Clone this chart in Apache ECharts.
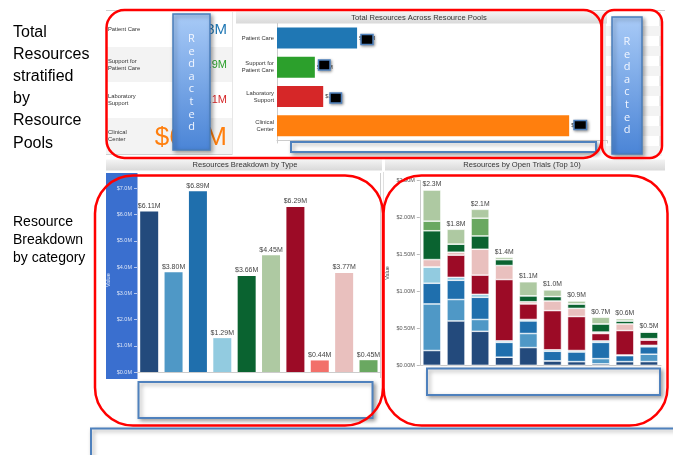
<!DOCTYPE html>
<html>
<head>
<meta charset="utf-8">
<script src="https://cdn.jsdelivr.net/npm/echarts@6/dist/echarts.min.js"></script>
<style>
html, body { margin: 0; padding: 0; background: #fff; }
#chart { width: 673px; height: 455px; }
</style>
</head>
<body>
<div id="chart"></div>
<script>
// top: total resources across resource pools ($M)
const poolNames = ['Patient Care', 'Support for\nPatient Care', 'Laboratory\nSupport', 'Clinical\nCenter']
const poolValues = [1.82, 0.86, 1.05, 6.64]

// bottom left: resources breakdown by type ($M)
const typeNames = ['Type 1', 'Type 2', 'Type 3', 'Type 4', 'Type 5', 'Type 6', 'Type 7', 'Type 8', 'Type 9', 'Type 10']
const typeValues = [6.11, 3.80, 6.89, 1.29, 3.66, 4.45, 6.29, 0.44, 3.77, 0.45]

// bottom right: resources by open trials, top 10 ($M), stacked bottom -> top
const trialNames = ['Trial 1', 'Trial 2', 'Trial 3', 'Trial 4', 'Trial 5', 'Trial 6', 'Trial 7', 'Trial 8', 'Trial 9', 'Trial 10']
const trialTotalLabels = ['$2.3M', '$1.8M', '$2.1M', '$1.4M', '$1.1M', '$1.0M', '$0.9M', '$0.7M', '$0.6M', '$0.5M']
const trialType1  = [0.20, 0.60, 0.46, 0.11, 0.24, 0.06, 0.05, 0.02, 0.05, 0.05]
const trialType2  = [0.63, 0.29, 0.16, 0.00, 0.19, 0.00, 0.00, 0.07, 0.00, 0.10]
const trialType3  = [0.28, 0.26, 0.30, 0.20, 0.17, 0.13, 0.13, 0.22, 0.08, 0.10]
const trialType4  = [0.22, 0.04, 0.04, 0.02, 0.02, 0.02, 0.02, 0.02, 0.01, 0.02]
const trialType7  = [0.00, 0.30, 0.26, 0.83, 0.21, 0.53, 0.46, 0.10, 0.33, 0.07]
const trialType9  = [0.10, 0.04, 0.35, 0.19, 0.03, 0.13, 0.11, 0.02, 0.09, 0.02]
const trialType5  = [0.39, 0.11, 0.18, 0.08, 0.08, 0.06, 0.06, 0.11, 0.04, 0.09]
const trialType10 = [0.13, 0.00, 0.24, 0.00, 0.00, 0.00, 0.00, 0.00, 0.00, 0.00]
const trialType6  = [0.42, 0.20, 0.12, 0.03, 0.19, 0.09, 0.04, 0.09, 0.03, 0.01]

// styles
const poolColors = ['#1f77b4', '#2ca02c', '#d62728', '#ff7f0e']
const poolFontSizes = [15, 11, 11, 26]
const typeColors = ['#234a7c', '#4f98c6', '#1f6fad', '#92cbe0', '#0a6330', '#aec9a2', '#9c0b26', '#f2706a', '#e9c0be', '#6aa861']
const FONT = '"Liberation Sans", Arial, sans-serif'

const chart = echarts.init(document.getElementById('chart'))

function money(v, d) { return '$' + v.toFixed(d) + 'M' }

const stackSeries = [
    ['Type 1', trialType1, 0], ['Type 2', trialType2, 1], ['Type 3', trialType3, 2], ['Type 4', trialType4, 3],
    ['Type 7', trialType7, 6], ['Type 9', trialType9, 8], ['Type 5', trialType5, 4], ['Type 10', trialType10, 9],
    ['Type 6', trialType6, 5]
].map(([name, data, ci]) => ({
    name: name,
    type: 'bar',
    xAxisIndex: 2,
    yAxisIndex: 2,
    stack: 'trials',
    barWidth: 18,
    itemStyle: { color: typeColors[ci], borderColor: '#fff', borderWidth: 0.6 },
    data: data
}))

// graphic helpers (annotations / frames)
function redFrame(x, y, w, h, r) {
    return { type: 'rect', z: 120, shape: { x: x, y: y, width: w, height: h, r: r }, style: { fill: 'none', stroke: '#ff0000', lineWidth: 2.5 } }
}
function blankBox(x, y, w, h) {
    return {
        type: 'rect', z: 110, shape: { x: x, y: y, width: w, height: h },
        style: { fill: '#fff', stroke: '#4f81bd', lineWidth: 2, shadowBlur: 4, shadowOffsetX: 2, shadowOffsetY: 2, shadowColor: 'rgba(0,0,0,0.35)' }
    }
}
function blackBox(x, y, w, h) {
    return {
        type: 'rect', z: 110, shape: { x: x, y: y, width: w, height: h },
        style: { fill: '#000', stroke: '#4f81bd', lineWidth: 1.5, shadowBlur: 3, shadowOffsetX: 1, shadowOffsetY: 1, shadowColor: 'rgba(0,0,0,0.4)' }
    }
}
function redacted(x, y, w, h, cy) {
    return [{
        type: 'rect', z: 112, shape: { x: x, y: y, width: w, height: h },
        style: {
            fill: new echarts.graphic.LinearGradient(0, 0, 0, 1, [{ offset: 0, color: '#a9cbf7' }, { offset: 1, color: '#4a84d6' }]),
            stroke: '#4a7ebb', lineWidth: 1.5, shadowBlur: 4, shadowOffsetX: 2, shadowOffsetY: 2, shadowColor: 'rgba(0,0,0,0.35)'
        }
    }, {
        type: 'text', z: 113, style: {
            text: 'R\ne\nd\na\nc\nt\ne\nd', x: x + w / 2, y: cy, align: 'center', verticalAlign: 'middle',
            fill: '#f2f6ff', fontSize: 11, fontFamily: '"Open Sans", sans-serif', lineHeight: 12.6
        }
    }]
}
function band(x, y, w, h, text, tx) {
    return [{
        type: 'rect', z: 0, shape: { x: x, y: y, width: w, height: h },
        style: { fill: new echarts.graphic.LinearGradient(0, 0, 0, 1, [{ offset: 0, color: '#f4f4f4' }, { offset: 1, color: '#d9d9d9' }]) }
    }, {
        type: 'text', z: 1, style: { text: text, x: tx, y: y + h / 2, align: 'center', verticalAlign: 'middle', fill: '#333', fontSize: 7.6, fontFamily: FONT }
    }]
}
function hline(x1, x2, y, c) { return { type: 'line', z: 0, shape: { x1: x1, y1: y, x2: x2, y2: y }, style: { stroke: c || '#d0d0d0', lineWidth: 1 } } }
function vline(x, y1, y2, c) { return { type: 'line', z: 0, shape: { x1: x, y1: y1, x2: x, y2: y2 }, style: { stroke: c || '#d0d0d0', lineWidth: 1 } } }

const rowTops = [12, 47, 82, 118, 154]
const tableGraphics = []
poolNames.forEach((n, i) => {
    tableGraphics.push({ type: 'rect', z: 0, shape: { x: 106, y: rowTops[i], width: 126, height: rowTops[i + 1] - rowTops[i] }, style: { fill: i % 2 ? '#f3f3f3' : '#fff' } })
    const cy = (rowTops[i] + rowTops[i + 1]) / 2
    tableGraphics.push({ type: 'text', z: 1, style: { text: n, x: 108, y: cy, align: 'left', verticalAlign: 'middle', fill: '#333', fontSize: 5.8, lineHeight: 7, fontFamily: FONT } })
    tableGraphics.push({ type: 'text', z: 1, style: { text: money(poolValues[i], 1), x: 227, y: cy + (i === 3 ? 2 : 0), align: 'right', verticalAlign: 'middle', fill: poolColors[i], fontSize: poolFontSizes[i], fontFamily: FONT } })
})

const stripes = []
for (let k = 0; k < 7; k++) {
    stripes.push({ type: 'rect', z: 0, shape: { x: 606, y: 26 + k * 20, width: 56, height: 10 }, style: { fill: '#f3f3f3' } })
}

const graphics = [].concat(
    [hline(106, 665, 10.5, '#cfcfcf'), hline(106, 232, 154.5), vline(147.5, 12, 154), vline(232, 12, 155), vline(605, 12, 155), vline(660, 12, 155)],
    tableGraphics,
    stripes,
    band(236, 11.5, 371, 12, 'Total Resources Across Resource Pools', 419),
    band(106, 159.5, 276, 11, 'Resources Breakdown by Type', 245),
    band(385, 159.5, 280, 11, 'Resources by Open Trials (Top 10)', 522),
    [
        { type: 'rect', z: 0, shape: { x: 106, y: 173, width: 31.5, height: 206 }, style: { fill: '#3a6fcf' } },
        vline(380.5, 173, 378), vline(383.5, 172, 380, '#e0e0e0'),
        // left annotation texts
        { type: 'text', z: 1, style: { text: 'Total\nResources\nstratified\nby\nResource\nPools', x: 13, y: 21, align: 'left', verticalAlign: 'top', fill: '#000', fontSize: 16, lineHeight: 22.2, fontFamily: FONT } },
        { type: 'text', z: 1, style: { text: 'Resource\nBreakdown\nby category', x: 13, y: 213, align: 'left', verticalAlign: 'top', fill: '#000', fontSize: 14, lineHeight: 18, fontFamily: FONT } }
    ],
    redacted(173, 14, 37, 136, 83),
    redacted(612, 17, 30, 137, 86),
    [
        blackBox(361, 34.5, 12, 10), blackBox(318.5, 60, 11.5, 10), blackBox(330, 93, 11.5, 10), blackBox(574, 120.5, 12.5, 9),
        blankBox(291, 142, 305, 10),
        blankBox(138.5, 382, 234, 36),
        blankBox(427, 368.5, 233, 26.5),
        blankBox(91, 428.5, 600, 40),
        redFrame(106.5, 10, 495, 148, 18),
        redFrame(602, 10, 60, 148, 12),
        redFrame(95, 175.5, 288, 250, 38),
        redFrame(383.5, 175.5, 284, 250, 38)
    ]
)

const option = {
    animation: false,
    textStyle: { fontFamily: FONT },
    grid: [
        { left: 277, top: 23.4, width: 330, height: 117 },
        { left: 137, top: 188.25, width: 243.7, height: 183.75 },
        { left: 419.8, top: 180.5, width: 241.2, height: 184.8 }
    ],
    xAxis: [
        {
            gridIndex: 0, type: 'value', min: 0, max: 7.5, interval: 0.5,
            axisLabel: { show: false }, splitLine: { show: false },
            axisLine: { show: true, lineStyle: { color: '#cccccc' } },
            axisTick: { show: true, length: 3, lineStyle: { color: '#cccccc' } }
        },
        {
            gridIndex: 1, type: 'category', data: typeNames,
            axisLabel: { show: false },
            axisLine: { lineStyle: { color: '#cccccc' } },
            axisTick: { length: 6, lineStyle: { color: '#d8d8d8' } }
        },
        {
            gridIndex: 2, type: 'category', data: trialNames,
            axisLabel: { show: false },
            axisLine: { lineStyle: { color: '#cccccc' } },
            axisTick: { length: 4, lineStyle: { color: '#d8d8d8' } }
        }
    ],
    yAxis: [
        {
            gridIndex: 0, type: 'category', data: poolNames, inverse: true,
            axisLine: { show: true, lineStyle: { color: '#cccccc' } },
            axisTick: { show: false },
            axisLabel: { fontSize: 5.8, lineHeight: 7, color: '#333', margin: 3 }
        },
        {
            gridIndex: 1, type: 'value', min: 0, max: 7, interval: 1,
            name: 'Value', nameLocation: 'middle', nameGap: 26, nameRotate: 90,
            nameTextStyle: { fontSize: 5.5, color: '#e3eaf8' },
            axisLine: { show: false },
            axisTick: { show: true, length: 3, lineStyle: { color: '#b9c9ee' } },
            splitLine: { show: false },
            axisLabel: { fontSize: 5.5, color: '#dbe4f6', margin: 5, formatter: v => money(v, 1) }
        },
        {
            gridIndex: 2, type: 'value', min: 0, max: 2.5, interval: 0.5,
            name: 'Value', nameLocation: 'middle', nameGap: 29, nameRotate: 90,
            nameTextStyle: { fontSize: 5.5, color: '#444' },
            axisLine: { show: true, lineStyle: { color: '#cccccc' } },
            axisTick: { show: true, length: 3, lineStyle: { color: '#bbbbbb' } },
            splitLine: { show: false },
            axisLabel: { fontSize: 5.5, color: '#555', margin: 5, formatter: v => money(v, 2) }
        }
    ],
    series: [
        {
            name: 'Total Resources', type: 'bar', xAxisIndex: 0, yAxisIndex: 0, barWidth: 21,
            data: poolValues.map((v, i) => ({ value: v, itemStyle: { color: poolColors[i] } })),
            label: { show: true, position: 'right', distance: 2, fontSize: 5.8, color: '#333', formatter: p => money(p.value, 1) }
        },
        {
            name: 'Resources by Type', type: 'bar', xAxisIndex: 1, yAxisIndex: 1, barWidth: 18,
            data: typeValues.map((v, i) => ({ value: v, itemStyle: { color: typeColors[i] } })),
            label: { show: true, position: 'top', distance: 2, fontSize: 7, color: '#444', formatter: p => money(p.value, 2) }
        }
    ].concat(stackSeries, [{
        name: 'Total', type: 'bar', xAxisIndex: 2, yAxisIndex: 2, stack: 'trials', barWidth: 18,
        data: trialNames.map(() => 0),
        itemStyle: { color: 'transparent' },
        label: { show: true, position: 'top', distance: 2, fontSize: 6.8, color: '#444', formatter: p => trialTotalLabels[p.dataIndex] }
    }]),
    graphic: { elements: graphics }
}

chart.setOption(option)
</script>
</body>
</html>
